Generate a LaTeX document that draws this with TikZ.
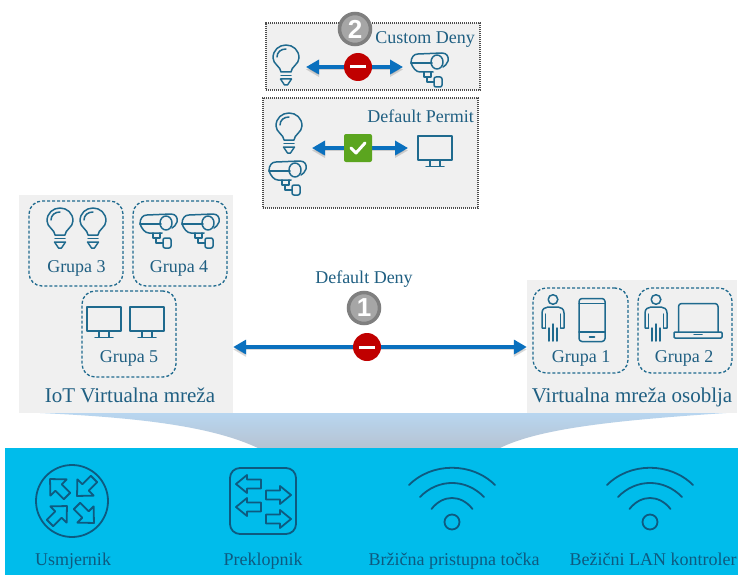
\documentclass[tikz,border=0pt]{standalone}
\usepackage{fontspec}
\setmainfont{Liberation Serif}
\newfontfamily\badgefont[Scale=1]{Liberation Sans}
\usetikzlibrary{arrows.meta,calc}
\definecolor{ico}{HTML}{1F6A8E}
\definecolor{icb}{HTML}{0E5A80}
\definecolor{txt}{HTML}{1F5F82}
\definecolor{panelc}{HTML}{F0F0F0}
\definecolor{barc}{HTML}{00BCEB}
\definecolor{arrc}{HTML}{0A70BE}
\definecolor{funtop}{HTML}{B8D6F0}
\definecolor{funbot}{HTML}{B6C3D2}
\definecolor{stopc}{HTML}{C00000}
\definecolor{okc}{HTML}{5BA51F}
\definecolor{badgefill}{HTML}{A6A6A6}
\definecolor{badgering}{HTML}{7F7F7F}
\tikzset{
 iconln/.style={draw=ico,line width=1.5pt,line join=round,line cap=round},
 blueln/.style={draw=icb,line width=1.8pt,line join=round,line cap=round},
 panel/.style={fill=panelc,inner sep=0pt,anchor=center},
 grp/.style={draw=ico,dash pattern=on 3pt off 2pt,line width=1.3pt,rounded corners=13pt,inner sep=0pt},
 policy/.style={fill=panelc,draw=black!70,dash pattern=on 1.2pt off 0.8pt,line width=1.2pt,inner sep=0pt},
 lbl/.style={text=txt,font=\fontsize{18}{20}\selectfont,inner sep=0pt,anchor=base},
 vnlbl/.style={text=txt,font=\fontsize{21}{24}\selectfont,inner sep=0pt,anchor=base},
 blbl/.style={text=icb,font=\fontsize{18}{20}\selectfont,inner sep=0pt,anchor=base},
 biglink/.style={draw=arrc,line width=4.5pt,{Triangle[length=13pt,width=14pt]}-{Triangle[length=13pt,width=14pt]},
   preaction={draw=black,opacity=.15,transform canvas={yshift=-2.5pt}}},
 stopsign/.style={circle,fill=stopc,text=white,minimum size=28pt,inner sep=0pt},
 oksign/.style={rounded corners=2pt,fill=okc,minimum size=28pt,inner sep=0pt},
 badge/.style={circle,fill=badgefill,draw=badgering,line width=3.5pt,text=white,minimum size=31pt,inner sep=0pt,font=\badgefont\bfseries\fontsize{26}{26}\selectfont},
 bulbicon/.pic={
  \draw[iconln] (-5,7) .. controls (-5,2) and (-13,-1) .. (-13,-7) .. controls (-13,-15) and (-7,-20) .. (0,-20) .. controls (7,-20) and (13,-15) .. (13,-7) .. controls (13,-1) and (5,2) .. (5,7) -- cycle;
  \draw[iconln] (-9,-8) .. controls (-9,-13) and (-5,-16) .. (0,-16);
  \draw[iconln] (-5,10.5) -- (5,10.5);
  \draw[iconln] (-5.5,14) -- (5.5,14) -- (1.5,20) -- (-1.5,20) -- cycle;
 },
 camicon/.pic={
  \draw[iconln] (-18,-6) .. controls (-18,-12) and (-15,-15) .. (-11,-15) -- (13,-16) .. controls (18,-16) and (20,-12) .. (19,-8) .. controls (18,-5) and (16,-3) .. (14,-2);
  \draw[iconln] (-18,-6) -- (3,-6);
  \draw[iconln] (-18,-6) .. controls (-16,-1) and (-13,3) .. (-9,3) -- (4,3);
  \draw[iconln] (8,-7) ellipse (6 and 7);
  \draw[iconln] (-5,3) -- (-5,8) -- (2,8) -- (2,3);
  \draw[iconln] (-2,8) -- (-2,13) -- (5,13);
  \draw[iconln,rounded corners=2pt] (5,8) rectangle (13,18);
 },
 monicon/.pic={
  \draw[iconln] (-17,-15) rectangle (17,9);
  \draw[iconln] (-5,9) -- (-5,15) (5,9) -- (5,15) (-9,15.5) -- (9,15.5);
 },
 personicon/.pic={
  \draw[iconln] (0,-18.5) circle (4.8);
  \draw[iconln] (-7.5,10) -- (-11,10) -- (-11,-5) .. controls (-11,-9) and (-8,-11) .. (-5,-11) -- (5,-11) .. controls (8,-11) and (11,-9) .. (11,-5) -- (11,10) -- (7.5,10);
  \draw[iconln] (-7.5,-4) -- (-7.5,10) (7.5,-4) -- (7.5,10);
  \draw[iconln] (-4,10) -- (-4,23) (4,10) -- (4,23) (0,6) -- (0,23);
 },
 phoneicon/.pic={
  \draw[iconln,rounded corners=3pt] (-13,-21.5) rectangle (13,21.5);
  \draw[iconln] (-13,-16.5) -- (13,-16.5) (-13,12) -- (13,12) (-2.5,17) -- (2.5,17);
 },
 laptopicon/.pic={
  \draw[iconln,rounded corners=3pt] (-19.5,11) -- (-19.5,-17.5) -- (20,-17.5) -- (20,11);
  \draw[iconln,rounded corners=1pt] (-24,11) rectangle (24,17);
  \draw[iconln] (-4,13.5) -- (4,13.5);
 },
 hollowarrow/.pic={
  \draw[blueln] (0,-4.5) -- (14,-4.5) -- (14,-9) -- (25,0) -- (14,9) -- (14,4.5) -- (0,4.5) -- cycle;
 },
 diagarrow/.pic={
  \draw[blueln] (0,-4.5) -- (12,-4.5) -- (12,-11.5) -- (24,0) -- (12,11.5) -- (12,4.5) -- (0,4.5) -- cycle;
 },
 routericon/.pic={
  \draw[blueln] (0,0) circle (36);
  \pic[shift={(-5,-5)},rotate=135] {diagarrow};
  \pic[shift={(5,5)},rotate=-45] {diagarrow};
  \pic[shift={(22,-22)},rotate=-135] {diagarrow};
  \pic[shift={(-22,22)},rotate=45] {diagarrow};
 },
 switchicon/.pic={
  \draw[blueln,rounded corners=10pt] (-33,-33) rectangle (33,33);
  \pic[shift={(-2,-17)},rotate=180] {hollowarrow};
  \pic[shift={(-2,6)},rotate=180] {hollowarrow};
  \pic[shift={(3,-6)}] {hollowarrow};
  \pic[shift={(3,18)}] {hollowarrow};
 },
 wifiicon/.pic={
  \draw[blueln] (0,0) circle (7.5);
  \draw[blueln] (-43,-37) .. controls (-20,-60) and (20,-60) .. (43,-37);
  \draw[blueln] (-32,-25) .. controls (-14,-43.7) and (14,-43.7) .. (32,-25);
  \draw[blueln] (-20.5,-13) .. controls (-9,-27.7) and (9,-27.7) .. (20.5,-13);
 },
}
\begin{document}
\begin{tikzpicture}[x=1pt,y=-1pt]
\useasboundingbox (0,0) rectangle (738,575);
\fill[white] (0,0) rectangle (738,575);
% funnel
\shade[top color=funtop,bottom color=funbot]
  (40,413) -- (726,413) .. controls (620,420) and (540,428) .. (500,448) -- (258,448) .. controls (215,428) and (150,418) .. (40,413) -- cycle;
\fill[barc] (5,448) rectangle (738,575);
% panels
\node[panel,minimum width=214pt,minimum height=218pt] (iot) at (126,304) {};
\node[panel,minimum width=210pt,minimum height=133pt] (staff) at (632,346.5) {};
\node[policy,minimum width=214pt,minimum height=67pt] (custom) at (373,56.5) {};
\node[policy,minimum width=215pt,minimum height=110pt] (permit) at (370.5,153) {};
% groups
\node[grp,minimum width=94pt,minimum height=85pt] (g3) at (76,243.5) {};
\node[grp,minimum width=94pt,minimum height=85pt] (g4) at (180,243.5) {};
\node[grp,minimum width=94pt,minimum height=86pt] (g5) at (129,334) {};
\node[grp,minimum width=95pt,minimum height=85pt] (g1) at (580.5,330.5) {};
\node[grp,minimum width=94pt,minimum height=85pt] (g2) at (685,330.5) {};
% group labels
\node[lbl] (t3) at (76.5,272) {Grupa 3};
\node[lbl] (t4) at (179,272) {Grupa 4};
\node[lbl] (t5) at (129,362) {Grupa 5};
\node[lbl] (t1) at (581,362) {Grupa 1};
\node[lbl] (t2) at (684,362) {Grupa 2};
\node[vnlbl] (tiot) at (130,402) {IoT Virtualna mreža};
\node[vnlbl] (tstaff) at (632,402) {Virtualna mreža osoblja};
% group icons
\pic at (60,228) {bulbicon};
\pic at (93,228) {bulbicon};
\pic at (158,230) {camicon};
\pic at (200,230) {camicon};
\pic at (104,322) {monicon};
\pic at (147,322) {monicon};
\pic at (553,318) {personicon};
\pic at (592,320) {phoneicon};
\pic at (656,318) {personicon};
\pic at (698,321) {laptopicon};
% custom deny
\node[lbl,anchor=base east] (tcustom) at (475,44) {Custom Deny};
\pic at (286,65) {bulbicon};
\pic at (429,69) {camicon};
\coordinate (c2l) at (306,67);
\coordinate (c2r) at (403,67);
\draw[biglink] (c2l) -- (c2r);
\node[stopsign] (stopb) at (358,67) {\rule{16pt}{3pt}};
\node[badge] (b2) at (355,29) {2};
% default permit
\node[lbl,anchor=base east] (tpermit) at (474,123) {Default Permit};
\pic at (289,133) {bulbicon};
\pic at (287,177) {camicon};
\pic at (435,151) {monicon};
\coordinate (c3l) at (312,148);
\coordinate (c3r) at (408,148);
\draw[biglink] (c3l) -- (c3r);
\node[oksign] (ok) at (358,148) {};
\draw[white,line width=3pt,line cap=round,line join=round] ($(ok.center)+(-7,0)$) -- ($(ok.center)+(-2,5)$) -- ($(ok.center)+(7,-5)$);
% default deny
\node[lbl] (tdeny) at (364,283) {Default Deny};
\node[badge] (b1) at (364,308) {1};
\coordinate (mid) at (367,347);
\draw[biglink] (iot.east |- mid) -- (staff.west |- mid);
\node[stopsign] (stopa) at (mid) {\rule{16pt}{3pt}};
% infrastructure
\pic at (72,501) {routericon};
\pic at (263,501) {switchicon};
\pic at (452,522) {wifiicon};
\pic at (650,522) {wifiicon};
\node[blbl] (u) at (73,565) {Usmjernik};
\node[blbl] (p) at (263,565) {Preklopnik};
\node[blbl] (w) at (454,565) {Bržična pristupna točka};
\node[blbl] (l) at (653,565) {Bežični LAN kontroler};
\end{tikzpicture}
\end{document}
